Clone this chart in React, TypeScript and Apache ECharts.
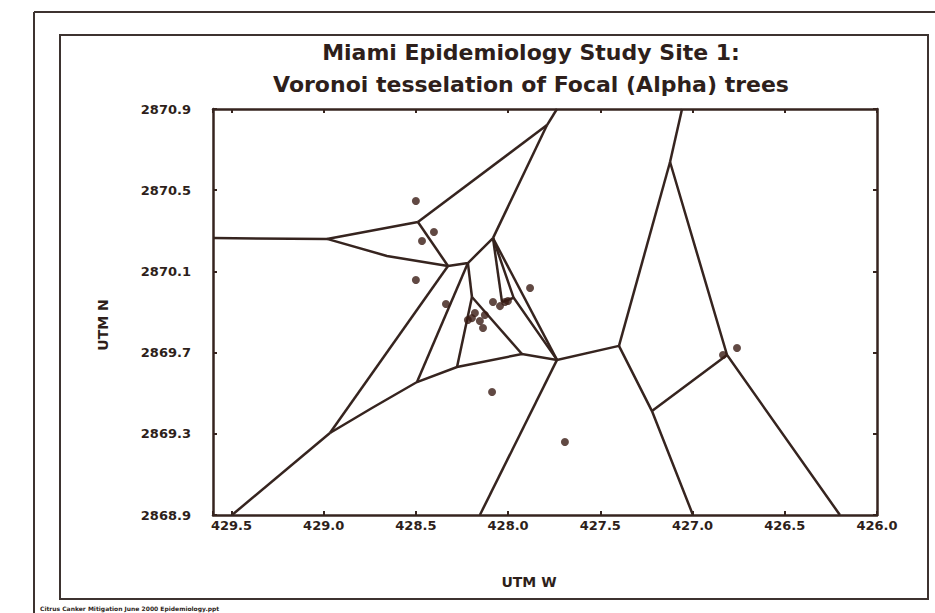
import React, { useEffect, useRef } from "react";
import * as echarts from "echarts";

// Axis ticks (UTM W decreasing to the right, UTM N increasing upward)
const xMin = 426.0;
const xMax = 429.6;
const xInterval = 0.5;
const yMin = 2868.9;
const yMax = 2870.9;
const yInterval = 0.4;

// Focal (Alpha) tree locations [UTM W, UTM N]
const trees: number[][] = [
  [428.5, 2870.447],
  [428.402, 2870.294],
  [428.467, 2870.25],
  [428.5, 2870.058],
  [428.337, 2869.939],
  [427.881, 2870.018],
  [428.087, 2869.506],
  [427.692, 2869.26],
  [426.835, 2869.688],
  [426.759, 2869.723],
  [428.218, 2869.861],
  [428.196, 2869.87],
  [428.153, 2869.856],
  [428.136, 2869.821],
  [428.126, 2869.885],
  [428.18, 2869.895],
  [428.082, 2869.949],
  [428.044, 2869.929],
  [428.017, 2869.949],
  [428.001, 2869.954],
];

// Voronoi cell edges (polylines) [UTM W, UTM N]
const edges: number[][][] = [
  [[429.6, 2870.264], [428.982, 2870.26]],
  [[428.982, 2870.26], [428.489, 2870.343]],
  [[428.489, 2870.343], [427.789, 2870.821]],
  [[427.789, 2870.821], [427.735, 2870.9]],
  [[427.789, 2870.821], [428.082, 2870.264]],
  [[428.982, 2870.26], [428.657, 2870.176], [428.326, 2870.127]],
  [[428.489, 2870.343], [428.326, 2870.127]],
  [[428.326, 2870.127], [428.218, 2870.141], [428.082, 2870.264]],
  [[429.497, 2868.9], [428.966, 2869.304]],
  [[428.966, 2869.304], [428.326, 2870.127]],
  [[428.966, 2869.304], [428.738, 2869.427], [428.494, 2869.555], [428.277, 2869.629], [427.925, 2869.693], [427.735, 2869.664], [427.399, 2869.733]],
  [[428.494, 2869.555], [428.218, 2870.141]],
  [[427.735, 2869.664], [428.153, 2868.9]],
  [[427.399, 2869.733], [427.122, 2870.639]],
  [[427.122, 2870.639], [427.057, 2870.9]],
  [[427.399, 2869.733], [427.22, 2869.412], [426.998, 2868.9]],
  [[427.122, 2870.639], [426.813, 2869.688], [426.201, 2868.9]],
  [[427.22, 2869.412], [426.813, 2869.688]],
  [[428.082, 2870.264], [427.735, 2869.664]],
  [[428.218, 2870.141], [428.196, 2869.974]],
  [[428.196, 2869.974], [428.277, 2869.629]],
  [[428.196, 2869.974], [427.925, 2869.693]],
  [[428.082, 2870.264], [428.033, 2869.949]],
  [[428.082, 2870.264], [427.97, 2869.97], [427.735, 2869.664]],
  [[428.033, 2869.949], [427.97, 2869.97]],
];

const titleLines = [
  "Miami Epidemiology Study Site 1:",
  "Voronoi tesselation of Focal (Alpha) trees",
];
const xName = "UTM W";
const yName = "UTM N";
const footnote = "Citrus Canker Mitigation June 2000 Epidemiology.ppt";

const FONT = "'DejaVu Sans', sans-serif";
const INK = "#2e1f1b";
const LINE = "#36241f";

export default function App() {
  const ref = useRef<HTMLDivElement>(null);
  useEffect(() => {
    if (!ref.current) return;
    const chart = echarts.init(ref.current, undefined, { renderer: "svg" });
    const fmt = (step: number) => (v: number) => {
      const k = v / step;
      return Math.abs(k - Math.round(k)) < 1e-6 ? v.toFixed(1) : "";
    };
    const fmtY = (v: number) => v.toFixed(1);
    const axisCommon = {
      axisLine: { show: true, lineStyle: { color: LINE, width: 2.5 } },
      axisTick: { show: true, inside: true, length: 4, lineStyle: { color: LINE, width: 2 } },
      splitLine: { show: false },
    };
    chart.setOption({
      animation: false,
      backgroundColor: "#ffffff",
      grid: { left: 213, right: 58, top: 109, bottom: 98, containLabel: false },
      xAxis: [
        {
          type: "value",
          min: xMin,
          max: xMax,
          interval: xInterval,
          inverse: true,
          position: "bottom",
          ...axisCommon,
          axisLabel: {
            formatter: fmt(xInterval),
            color: INK,
            fontFamily: FONT,
            fontWeight: "bold",
            fontSize: 13,
            margin: 4,
          },
        },
        {
          type: "value",
          min: xMin,
          max: xMax,
          interval: xInterval,
          inverse: true,
          position: "top",
          ...axisCommon,
          axisLabel: { show: false },
        },
      ],
      yAxis: [
        {
          type: "value",
          min: yMin,
          max: yMax,
          interval: yInterval,
          position: "left",
          ...axisCommon,
          axisLabel: {
            formatter: fmtY,
            color: INK,
            fontFamily: FONT,
            fontWeight: "bold",
            fontSize: 13,
            margin: 22,
          },
        },
        {
          type: "value",
          min: yMin,
          max: yMax,
          interval: yInterval,
          position: "right",
          ...axisCommon,
          axisLabel: { show: false },
        },
      ],
      graphic: [
        { type: "line", shape: { x1: 34, y1: 12, x2: 935, y2: 12 }, style: { stroke: "#3d3330", lineWidth: 2 } },
        { type: "line", shape: { x1: 34, y1: 12, x2: 34, y2: 613 }, style: { stroke: "#3d3330", lineWidth: 2 } },
        { type: "rect", shape: { x: 60, y: 35, width: 868, height: 564 }, style: { fill: "none", stroke: "#3d3330", lineWidth: 2 } },
        {
          type: "text",
          x: 531,
          y: 52,
          style: { text: titleLines[0], align: "center", verticalAlign: "middle", fill: INK, font: `bold 22px ${FONT}` },
        },
        {
          type: "text",
          x: 531,
          y: 84,
          style: { text: titleLines[1], align: "center", verticalAlign: "middle", fill: INK, font: `bold 22px ${FONT}` },
        },
        {
          type: "text",
          x: 529,
          y: 582,
          style: { text: xName, align: "center", verticalAlign: "middle", fill: INK, font: `bold 14px ${FONT}` },
        },
        {
          type: "text",
          x: 103,
          y: 325,
          rotation: Math.PI / 2,
          style: { text: yName, align: "center", verticalAlign: "middle", fill: INK, font: `bold 14px ${FONT}` },
        },
        {
          type: "text",
          x: 40,
          y: 608,
          style: { text: footnote, align: "left", verticalAlign: "middle", fill: INK, font: `bold 6px ${FONT}` },
        },
      ],
      series: [
        {
          type: "lines",
          coordinateSystem: "cartesian2d",
          polyline: true,
          silent: true,
          lineStyle: { color: LINE, width: 2.5, opacity: 1 },
          data: edges.map((c) => ({ coords: c })),
        },
        {
          type: "scatter",
          symbol: "circle",
          symbolSize: 8,
          itemStyle: { color: "#3a1c14" },
          data: trees,
          z: 5,
        },
      ],
    });
    return () => chart.dispose();
  }, []);
  return <div ref={ref} style={{ position: "fixed", left: 0, top: 0, width: 935, height: 613 }} />;
}
